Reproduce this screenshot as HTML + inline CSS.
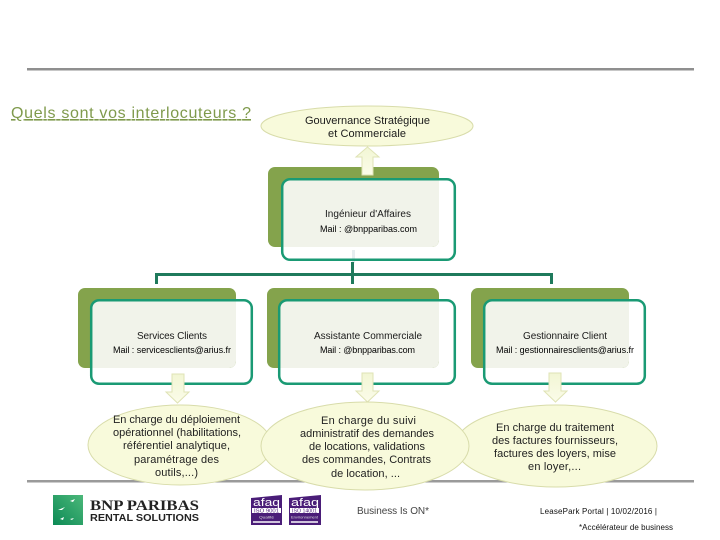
<!DOCTYPE html>
<html lang="fr">
<head>
<meta charset="utf-8">
<title>Quels sont vos interlocuteurs ?</title>
<style>
html,body{margin:0;padding:0;background:#fff;width:720px;height:540px;overflow:hidden}
svg{display:block}
text{font-family:"Liberation Sans",sans-serif;fill:#1a1a1a}
.t{font-size:11px}
.s{font-size:10px}
.m{font-size:9px;fill:#000}
.e{font-size:11px;fill:#222}
.f{font-size:8px;fill:#111}
</style>
</head>
<body>
<svg width="720" height="540" viewBox="0 0 720 540" xmlns="http://www.w3.org/2000/svg">
<defs>
<linearGradient id="ar" x1="0" y1="0" x2="0" y2="1"><stop offset="0" stop-color="#f2f6d4"/><stop offset="1" stop-color="#fbfce9"/></linearGradient>
<linearGradient id="lg" x1="0" y1="1" x2="1" y2="0"><stop offset="0" stop-color="#0c8a55"/><stop offset="1" stop-color="#4cb87a"/></linearGradient>
</defs>

<!-- rules -->
<rect x="27" y="68" width="667" height="2.5" fill="#8f8f8f"/>
<rect x="27" y="480" width="667" height="2.5" fill="#9a9a9a"/>

<!-- title -->
<text x="11" y="118" font-size="16" style="fill:#7f9a4c" text-decoration="underline" textLength="240" lengthAdjust="spacing">Quels sont vos interlocuteurs ?</text>

<!-- top ellipse -->
<ellipse cx="367" cy="126" rx="106" ry="20" fill="#f8fadb" stroke="#d8dcaa"/>
<text class="t" x="305" y="124" textLength="125" lengthAdjust="spacing">Gouvernance Stratégique</text>
<text class="t" x="328" y="137" textLength="78" lengthAdjust="spacing">et Commerciale</text>

<!-- connectors -->
<rect x="352" y="250" width="3" height="13" fill="#e6edf0"/>
<rect x="155" y="273" width="398" height="3" fill="#1f7a5c"/>
<rect x="155" y="273" width="3" height="11" fill="#1f7a5c"/>
<rect x="351" y="262" width="3" height="22" fill="#1f7a5c"/>
<rect x="550" y="273" width="3" height="11" fill="#1f7a5c"/>

<!-- top box -->
<rect x="268" y="167" width="171" height="80" rx="7" fill="#84a34c"/>
<path d="M290 179H439V240a7 7 0 0 1-7 7H282V187a8 8 0 0 1 8-8Z" fill="#f1f3ea"/>
<rect x="282.2" y="179.2" width="172.6" height="80.6" rx="8" fill="none" stroke="#1a9a74" stroke-width="2.5"/>
<path d="M362 175V157H356L367.5 147L379 157H373V175Z" fill="url(#ar)" stroke="#dfe3b5"/>
<text class="s" x="325" y="217" textLength="86" lengthAdjust="spacing">Ingénieur d'Affaires</text>
<text class="m" x="320" y="232" textLength="97" lengthAdjust="spacing">Mail : @bnpparibas.com</text>

<!-- box 1 -->
<rect x="78" y="288" width="158" height="80" rx="7" fill="#84a34c"/>
<path d="M99 300H236V361a7 7 0 0 1-7 7H91V308a8 8 0 0 1 8-8Z" fill="#f1f3ea"/>
<rect x="91.2" y="300.2" width="160.6" height="83.6" rx="8" fill="none" stroke="#1a9a74" stroke-width="2.5"/>
<text class="s" x="137" y="339" textLength="70" lengthAdjust="spacing">Services Clients</text>
<text class="m" x="113" y="353" textLength="118" lengthAdjust="spacing">Mail : servicesclients@arius.fr</text>

<!-- box 2 -->
<rect x="267" y="288" width="172" height="80" rx="7" fill="#84a34c"/>
<path d="M287 300H439V361a7 7 0 0 1-7 7H279V308a8 8 0 0 1 8-8Z" fill="#f1f3ea"/>
<rect x="279.2" y="300.2" width="175.6" height="83.6" rx="8" fill="none" stroke="#1a9a74" stroke-width="2.5"/>
<text class="s" x="314" y="339" textLength="108" lengthAdjust="spacing">Assistante Commerciale</text>
<text class="m" x="320" y="353" textLength="95" lengthAdjust="spacing">Mail : @bnpparibas.com</text>

<!-- box 3 -->
<rect x="471" y="288" width="158" height="80" rx="7" fill="#84a34c"/>
<path d="M492 300H629V361a7 7 0 0 1-7 7H484V308a8 8 0 0 1 8-8Z" fill="#f1f3ea"/>
<rect x="484.2" y="300.2" width="160.6" height="83.6" rx="8" fill="none" stroke="#1a9a74" stroke-width="2.5"/>
<text class="s" x="523" y="339" textLength="84" lengthAdjust="spacing">Gestionnaire Client</text>
<text class="m" x="496" y="353" textLength="138" lengthAdjust="spacing">Mail : gestionnairesclients@arius.fr</text>

<!-- down arrows -->
<path d="M172 374H184V392H189L177.5 403L166 392H172Z" fill="url(#ar)" stroke="#dfe3b5"/>
<path d="M362 373H373V391H379L367.5 402L356 391H362Z" fill="url(#ar)" stroke="#dfe3b5"/>
<path d="M549 373H561V391H567L555.5 402L544 391H549Z" fill="url(#ar)" stroke="#dfe3b5"/>

<!-- ellipses -->
<ellipse cx="180" cy="445" rx="92" ry="40" fill="#f8fadb" stroke="#d8dcaa"/>
<ellipse cx="556" cy="446" rx="101" ry="41" fill="#f8fadb" stroke="#d8dcaa"/>
<ellipse cx="365" cy="446" rx="104" ry="44" fill="#f8fadb" stroke="#d8dcaa"/>

<text class="e" x="113" y="423" textLength="127" lengthAdjust="spacing">En charge du déploiement</text>
<text class="e" x="113" y="436" textLength="128" lengthAdjust="spacing">opérationnel (habilitations,</text>
<text class="e" x="123" y="449" textLength="107" lengthAdjust="spacing">référentiel analytique,</text>
<text class="e" x="134" y="463" textLength="85" lengthAdjust="spacing">paramétrage des</text>
<text class="e" x="155" y="476" textLength="43" lengthAdjust="spacing">outils,...)</text>

<text class="e" x="321" y="424" textLength="95" lengthAdjust="spacing">En charge du suivi</text>
<text class="e" x="300" y="437" textLength="134" lengthAdjust="spacing">administratif des demandes</text>
<text class="e" x="309" y="450" textLength="116" lengthAdjust="spacing">de locations, validations</text>
<text class="e" x="302" y="463" textLength="129" lengthAdjust="spacing">des commandes, Contrats</text>
<text class="e" x="331" y="477" textLength="69" lengthAdjust="spacing">de location, ...</text>

<text class="e" x="496" y="431" textLength="118" lengthAdjust="spacing">En charge du traitement</text>
<text class="e" x="492" y="444" textLength="126" lengthAdjust="spacing">des factures fournisseurs,</text>
<text class="e" x="494" y="457" textLength="122" lengthAdjust="spacing">factures des loyers, mise</text>
<text class="e" x="528" y="470" textLength="53" lengthAdjust="spacing">en loyer,...</text>

<!-- BNP logo -->
<rect x="53" y="495" width="30" height="30" fill="url(#lg)"/>
<path d="M58 510l7-3-3 3zM70 501l5-2-2 3zM60 519l4-2-1 3zM70 519l4-1-2 2z" fill="#fff"/>
<text x="90" y="510" font-size="15" font-weight="bold" style="font-family:'Liberation Serif',serif;fill:#222" textLength="109" lengthAdjust="spacingAndGlyphs">BNP PARIBAS</text>
<text x="90" y="521" font-size="10.5" font-weight="bold" style="fill:#222" textLength="109" lengthAdjust="spacingAndGlyphs">RENTAL SOLUTIONS</text>

<!-- AFAQ badges -->
<path d="M251 498L282 495V525H251Z" fill="#4a1d78"/>
<rect x="252" y="508" width="29" height="5" fill="#fff"/>
<rect x="253" y="521" width="27" height="2" fill="#cfc4dc"/>
<text x="253" y="506" font-size="11" style="fill:#fff" textLength="27" lengthAdjust="spacingAndGlyphs">afaq</text>
<text x="254" y="512.5" font-size="5" style="fill:#4a1d78" textLength="25" lengthAdjust="spacingAndGlyphs">ISO 9001</text>
<text x="259" y="518.5" font-size="4" style="fill:#ddd" textLength="15" lengthAdjust="spacingAndGlyphs">Qualité</text>
<path d="M289 498L321 495V525H289Z" fill="#4a1d78"/>
<rect x="290" y="508" width="29" height="5" fill="#fff"/>
<rect x="291" y="521" width="27" height="2" fill="#cfc4dc"/>
<text x="291" y="506" font-size="11" style="fill:#fff" textLength="28" lengthAdjust="spacingAndGlyphs">afaq</text>
<text x="292" y="512.5" font-size="5" style="fill:#4a1d78" textLength="25" lengthAdjust="spacingAndGlyphs">ISO 14001</text>
<text x="291" y="518.5" font-size="4" style="fill:#ddd" textLength="27" lengthAdjust="spacingAndGlyphs">Environnement</text>

<!-- footer text -->
<text x="357" y="514" font-size="10" style="fill:#444" textLength="72" lengthAdjust="spacing">Business Is ON*</text>
<text class="f" x="540" y="514" textLength="117" lengthAdjust="spacing">LeasePark Portal | 10/02/2016 |</text>
<text class="f" x="579" y="530" textLength="94" lengthAdjust="spacing">*Accélérateur de business</text>
</svg>
</body>
</html>
